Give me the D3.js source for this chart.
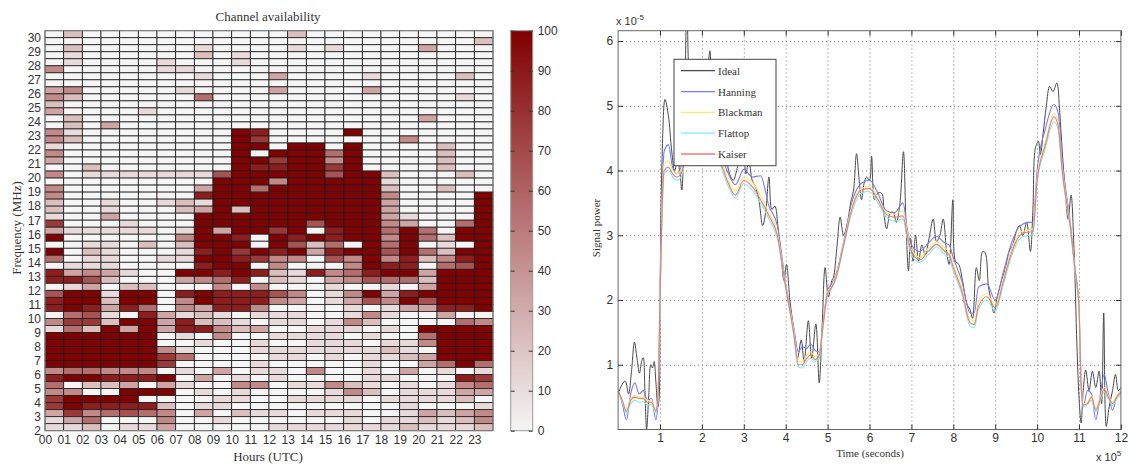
<!DOCTYPE html>
<html>
<head>
<meta charset="utf-8">
<script src="https://cdn.jsdelivr.net/npm/d3@7"></script>
<style>
  body { margin: 0; background: #fff; }
  text { font-family: "Liberation Sans", Arial, sans-serif; fill: #333; }
  .serif { font-family: "Liberation Serif", "DejaVu Serif", serif; }
</style>
</head>
<body>
<div id="canvas"></div>
<script>
// ---- heatmap data ----
var hours = ['00','01','02','03','04','05','06','07','08','09','10','11',
             '12','13','14','15','16','17','18','19','20','21','22','23'];
var freqTicks = [2,3,4,5,6,7,8,9,10,11,12,13,14,15,16,17,18,19,20,21,22,23,24,25,26,27,28,29,30];
var colorTicks = [0,10,20,30,40,50,60,70,80,90,100];

// one string per 0.5 MHz row, top (30-30.5) to bottom (2-2.5); one digit per hour, digit*11 = availability %
var availability = [
  '020000000000020000000000',
  '000000000000000000000002',
  '020000001000010100003000',
  '010000002010000000000000',
  '010000100010000000000000',
  '400000110000000000000000',
  '000000001000300001000020',
  '000000000000000000000000',
  '340000010000300003000000',
  '420000005000000000000010',
  '200000000000000000000000',
  '300001000000000000000000',
  '020000000000000000003000',
  '020300000000000000000000',
  '410000000098000090000000',
  '420000000097000000040000',
  '100000000099099090000200',
  '400000000090999590000200',
  '300000000099799490000200',
  '002000000098899790000200',
  '401111111699999699200020',
  '000000000999499999100000',
  '400000003995999999200200',
  '400000008999999999400009',
  '200100121999999999300009',
  '200100023929999999300009',
  '100300009999999999310009',
  '700010009999996999430059',
  '311111019399790899595099',
  '900000049980989899495299',
  '001102029990962509590109',
  '902100018979893899695299',
  '501100119987440649482489',
  '011100008990400049880569',
  '834310099898218458993999',
  '886200034580210346552999',
  '013022000404000100103999',
  '699199089888640149389999',
  '899299049888430136496999',
  '898385043884000010133889',
  '056108312101110014100300',
  '477299382210110142000054',
  '152939388423001110109999',
  '999999010400111101005999',
  '999999001001001110114999',
  '999999410001111111210999',
  '999999750000110101123999',
  '999999700001000001003595',
  '455444010301104001030101',
  '899888903010100001100087',
  '502230310044011421010145',
  '440099901010000142011133',
  '799990000110011110111120',
  '798888201100000000010001',
  '374565403021101110013234',
  '135000400100000010112124',
  '112011300000111111121112'
];

// ---- signal power data (time in 1e5 s, power in 1e-5) ----
var timeTicks = [1,2,3,4,5,6,7,8,9,10,11,12];
var powerTicks = [1,2,3,4,5,6];
var seriesNames = ['Ideal','Hanning','Blackman','Flattop','Kaiser'];
var seriesColors = ['#4a4a4a','#7878ff','#ffea66','#7af0f0','#f27878'];

var timeSmooth = [0,0.1,0.2,0.3,0.4,0.5,0.6,0.7,0.8,0.9,0.95,1.0,1.05,1.1,1.2,1.3,1.4,1.5,1.6,
  1.8,2.0,2.2,2.4,2.6,2.8,3.0,3.2,3.4,3.6,3.8,4.0,4.2,4.3,4.4,4.5,4.6,4.7,4.8,4.9,5.0,5.1,5.2,
  5.4,5.6,5.8,6.0,6.2,6.4,6.6,6.8,6.9,7.0,7.2,7.4,7.6,7.8,7.9,8.0,8.2,8.4,8.5,8.6,8.8,9.0,9.2,
  9.4,9.6,9.8,9.9,10.0,10.2,10.4,10.5,10.6,10.8,10.9,11.0,11.05,11.1,11.2,11.3,11.4,11.5,11.6,
  11.7,11.8,11.9,12.0];

var hanning = [0.6,0.4,0.15,0.55,0.72,0.55,0.6,0.45,0.48,0.15,0.4,2.0,3.6,4.3,4.4,4.05,3.95,4.05,4.3,
  4.45,4.35,4.55,4.35,4.0,3.78,4.02,3.9,3.92,3.45,3.15,2.25,1.55,1.2,1.28,1.25,1.32,1.22,1.2,1.7,2.15,
  2.25,2.4,2.95,3.55,3.8,3.85,3.65,3.38,3.35,3.5,3.1,2.85,2.75,2.88,2.98,2.88,2.85,2.65,2.3,1.8,1.8,
  2.2,2.25,2.0,2.45,2.9,3.15,3.2,3.2,4.0,4.65,5.02,4.9,4.15,3.15,2.5,1.9,0.7,0.35,0.6,0.55,0.15,0.5,
  0.85,0.55,0.3,0.5,0.58];
var blackman = [0.6,0.45,0.3,0.48,0.52,0.5,0.5,0.45,0.44,0.3,0.5,2.0,3.5,4.1,4.15,4.0,3.95,4.0,4.2,
  4.3,4.25,4.4,4.25,3.9,3.68,3.9,3.82,3.62,3.35,3.05,2.22,1.5,1.05,1.05,1.15,1.2,1.12,1.18,1.68,2.12,
  2.22,2.38,2.92,3.5,3.72,3.75,3.58,3.35,3.32,3.38,3.05,2.78,2.66,2.8,2.9,2.8,2.75,2.55,2.2,1.7,1.68,
  1.98,2.1,1.92,2.35,2.8,3.05,3.08,3.1,3.9,4.45,4.88,4.75,4.05,3.12,2.5,1.9,0.72,0.4,0.42,0.52,0.32,
  0.48,0.65,0.52,0.42,0.52,0.6];
var flattop = [0.6,0.42,0.25,0.4,0.45,0.42,0.43,0.38,0.38,0.25,0.45,1.95,3.3,3.95,4.0,3.9,3.85,3.9,4.1,
  4.2,4.15,4.3,4.15,3.8,3.58,3.8,3.7,3.5,3.25,2.95,2.18,1.42,0.97,0.95,1.05,1.1,1.05,1.1,1.62,2.08,
  2.18,2.32,2.88,3.4,3.65,3.68,3.5,3.28,3.22,3.25,2.95,2.7,2.58,2.7,2.82,2.7,2.65,2.45,2.1,1.6,1.57,
  1.85,2.0,1.83,2.25,2.7,2.95,3.0,3.0,3.8,4.35,4.75,4.65,3.95,3.05,2.45,1.85,0.68,0.35,0.38,0.45,0.27,
  0.42,0.58,0.47,0.37,0.47,0.55];
var kaiser = [0.6,0.45,0.28,0.45,0.5,0.48,0.48,0.42,0.42,0.28,0.5,2.0,3.4,4.0,4.05,3.95,3.9,3.95,4.15,
  4.25,4.2,4.35,4.2,3.85,3.62,3.85,3.75,3.55,3.3,3.0,2.2,1.45,1.0,1.0,1.1,1.15,1.08,1.15,1.65,2.1,
  2.2,2.35,2.9,3.45,3.7,3.72,3.55,3.32,3.28,3.3,3.0,2.75,2.62,2.75,2.86,2.75,2.7,2.5,2.15,1.65,1.62,
  1.9,2.05,1.88,2.3,2.75,3.0,3.05,3.05,3.85,4.4,4.83,4.7,4.0,3.1,2.5,1.9,0.7,0.38,0.4,0.5,0.3,0.45,
  0.62,0.5,0.4,0.5,0.58];

var timeIdeal = [0,0.1,0.17,0.25,0.32,0.39,0.45,0.51,0.56,0.6,0.64,0.68,0.73,0.78,0.82,0.86,0.9,0.95,
  0.98,1.0,1.05,1.12,1.2,1.28,1.35,1.42,1.48,1.52,1.58,1.64,1.7,1.78,1.88,1.98,2.08,2.19,2.28,2.38,
  2.48,2.58,2.66,2.75,2.83,2.92,2.98,3.05,3.12,3.2,3.28,3.36,3.45,3.52,3.6,3.67,3.74,3.82,3.9,3.96,
  4.02,4.1,4.2,4.28,4.37,4.44,4.54,4.62,4.72,4.8,4.87,4.94,5.02,5.1,5.14,5.22,5.3,5.38,5.46,5.55,
  5.62,5.69,5.76,5.81,5.87,5.93,6.0,6.05,6.12,6.2,6.29,6.35,6.41,6.5,6.57,6.64,6.72,6.81,6.87,6.93,
  6.98,7.04,7.1,7.17,7.25,7.33,7.42,7.52,7.6,7.68,7.76,7.84,7.9,7.99,8.05,8.13,8.22,8.32,8.4,8.46,
  8.55,8.62,8.7,8.76,8.84,8.9,8.97,9.05,9.15,9.25,9.33,9.42,9.5,9.58,9.66,9.75,9.84,9.9,9.96,10.03,
  10.08,10.14,10.22,10.3,10.38,10.47,10.54,10.6,10.67,10.74,10.81,10.88,10.95,11.0,11.05,11.1,11.16,
  11.24,11.32,11.4,11.48,11.54,11.59,11.65,11.72,11.8,11.87,11.94,12.0];
var ideal = [0.55,0.7,0.75,0.55,0.9,1.35,1.1,0.87,1.05,1.11,0.6,0.0,0.5,1.0,0.95,1.05,0.75,0.35,
  0.5,2.0,4.2,5.1,4.85,4.3,4.0,4.15,3.95,3.7,4.7,6.5,5.2,4.6,4.7,4.4,4.8,5.85,4.6,4.4,
  4.5,4.2,3.95,3.85,4.0,4.25,4.3,3.95,4.15,3.85,3.75,3.55,3.15,3.35,3.9,3.4,3.45,3.1,2.6,2.3,
  2.55,2.0,1.5,1.1,1.38,1.05,1.68,1.1,1.63,0.72,1.6,2.5,2.05,2.3,2.35,2.8,3.28,3.0,3.15,3.5,
  3.7,4.26,3.8,3.55,3.8,3.9,3.85,4.22,3.55,3.65,3.65,3.3,3.1,3.35,3.35,3.2,3.45,4.29,3.2,2.45,
  2.95,2.6,3.0,2.6,2.85,2.7,2.95,3.25,2.9,3.0,3.25,2.75,2.55,3.55,2.6,2.55,2.3,1.95,1.85,1.72,
  2.5,2.3,2.75,2.73,2.2,2.0,1.8,2.05,2.3,2.5,2.75,2.85,3.05,3.15,3.0,3.2,2.75,3.4,4.35,4.45,
  4.25,4.55,5.0,5.3,5.22,5.35,4.9,4.3,3.7,3.25,3.62,2.8,1.3,0.5,0.1,0.6,0.92,
  0.6,0.9,0.65,0.9,0.4,1.8,0.05,0.35,0.6,0.85,0.6,0.65];

var W = 1129, H = 464;
var svg = d3.select('#canvas').append('svg')
    .attr('width', W)
    .attr('height', H);

// ================= heatmap =================
var hm = {l:45, r:493, t:30.7, b:430.7};
var x = d3.scaleLinear().domain([0,24]).range([hm.l, hm.r]);
var y = d3.scaleLinear().domain([2,30.5]).range([hm.b, hm.t]);
var color = d3.scaleLinear().domain([0,100]).range(['#f5f5f5','#800000']);

var cells = [];
availability.forEach(function(row, k){
  row.split('').forEach(function(ch, h){
    cells.push({hour:h, f0:30 - 0.5*k, value:+ch * 11});
  });
});

svg.append('g').selectAll('rect')
  .data(cells)
  .enter()
  .append('rect')
  .attr('x', function(d){ return x(d.hour); })
  .attr('y', function(d){ return y(d.f0 + 0.5); })
  .attr('width', x(1) - x(0))
  .attr('height', y(0) - y(0.5))
  .attr('fill', function(d){ return color(d.value); })
  .attr('stroke', '#1c1c1c')
  .attr('stroke-width', 0.8);

svg.append('rect')
  .attr('x', hm.l).attr('y', hm.t)
  .attr('width', hm.r - hm.l).attr('height', hm.b - hm.t)
  .attr('fill', 'none').attr('stroke', '#888').attr('stroke-width', 1);

var hmY = d3.axisLeft(y).tickValues(freqTicks).tickSize(0).tickPadding(4);
var gy = svg.append('g').attr('transform', 'translate(' + hm.l + ',0)').call(hmY);
gy.select('.domain').remove();
gy.selectAll('text').style('font-size', '12px').style('fill', '#333');

var hmX = d3.axisBottom(x).tickValues(d3.range(24))
    .tickFormat(function(i){ return hours[i]; })
    .tickSize(0).tickPadding(5);
var gx = svg.append('g').attr('transform', 'translate(0,' + hm.b + ')').call(hmX);
gx.select('.domain').remove();
gx.selectAll('text').style('font-size', '12px').style('fill', '#333');

svg.append('text').attr('class', 'serif')
  .attr('x', 268).attr('y', 21)
  .attr('text-anchor', 'middle')
  .style('font-size', '13px')
  .text('Channel availability');

svg.append('text').attr('class', 'serif')
  .attr('transform', 'translate(21,228) rotate(-90)')
  .attr('text-anchor', 'middle')
  .style('font-size', '13px')
  .text('Frequency (MHz)');

svg.append('text').attr('class', 'serif')
  .attr('x', 268).attr('y', 461)
  .attr('text-anchor', 'middle')
  .style('font-size', '13px')
  .text('Hours (UTC)');

// colorbar
var cb = {l:510.7, r:532.7};
var cbScale = d3.scaleLinear().domain([0,100]).range([hm.b, hm.t]);
var grad = svg.append('defs').append('linearGradient')
  .attr('id', 'cbgrad')
  .attr('x1', 0).attr('y1', 1).attr('x2', 0).attr('y2', 0);
colorTicks.forEach(function(v){
  grad.append('stop').attr('offset', v/100).attr('stop-color', color(v));
});
svg.append('rect')
  .attr('x', cb.l).attr('y', hm.t)
  .attr('width', cb.r - cb.l).attr('height', hm.b - hm.t)
  .attr('fill', 'url(#cbgrad)')
  .attr('stroke', '#999').attr('stroke-width', 1);

var cbAxis = d3.axisRight(cbScale).tickValues(colorTicks).tickSize(-4).tickPadding(5);
var gcb = svg.append('g').attr('transform', 'translate(' + cb.r + ',0)').call(cbAxis);
gcb.select('.domain').remove();
gcb.selectAll('line').attr('stroke', '#333');
gcb.selectAll('text').style('font-size', '12px').style('fill', '#333');
var cbLeft = d3.axisLeft(cbScale).tickValues(colorTicks).tickSize(-4).tickFormat('');
var gcbl = svg.append('g').attr('transform', 'translate(' + cb.l + ',0)').call(cbLeft);
gcbl.select('.domain').remove();
gcbl.selectAll('line').attr('stroke', '#333');

// ================= signal power =================
var pl = {l:618.1, r:1120.9, t:30.7, b:429.5};
var xs = d3.scaleLinear().domain([0,12]).range([pl.l, pl.r]);
var ys = d3.scaleLinear().domain([0,6.16]).range([pl.b, pl.t]);

// dotted grid
var gridX = svg.append('g').attr('transform', 'translate(0,' + pl.b + ')')
  .call(d3.axisBottom(xs).tickValues(timeTicks.slice(0, 11)).tickSize(-(pl.b - pl.t)).tickFormat(''));
var gridY = svg.append('g').attr('transform', 'translate(' + pl.l + ',0)')
  .call(d3.axisLeft(ys).tickValues(powerTicks).tickSize(-(pl.r - pl.l)).tickFormat(''));
[gridX, gridY].forEach(function(g){
  g.select('.domain').remove();
  g.selectAll('line').attr('stroke', '#777').attr('stroke-dasharray', '1,3');
});

svg.append('clipPath').attr('id', 'plotclip')
  .append('rect')
  .attr('x', pl.l).attr('y', pl.t)
  .attr('width', pl.r - pl.l).attr('height', pl.b - pl.t);

var lines = svg.append('g').attr('clip-path', 'url(#plotclip)');

var idealLine = d3.line()
  .x(function(d, i){ return xs(timeIdeal[i]); })
  .y(function(d){ return ys(d); })
  .curve(d3.curveCatmullRom.alpha(0.5));
lines.append('path')
  .attr('d', idealLine(ideal))
  .attr('fill', 'none')
  .attr('stroke', seriesColors[0])
  .attr('stroke-width', 1);

var smoothLine = d3.line()
  .x(function(d, i){ return xs(timeSmooth[i]); })
  .y(function(d){ return ys(d); })
  .curve(d3.curveMonotoneX);
[hanning, blackman, flattop, kaiser].forEach(function(s, i){
  lines.append('path')
    .attr('d', smoothLine(s))
    .attr('fill', 'none')
    .attr('stroke', seriesColors[i + 1])
    .attr('stroke-width', 1.1);
});

svg.append('rect')
  .attr('x', pl.l).attr('y', pl.t)
  .attr('width', pl.r - pl.l).attr('height', pl.b - pl.t)
  .attr('fill', 'none').attr('stroke', '#666').attr('stroke-width', 1);

// inward ticks on all four sides
var axB = svg.append('g').attr('transform', 'translate(0,' + pl.b + ')')
  .call(d3.axisBottom(xs).tickValues(timeTicks).tickFormat(d3.format('d'))
    .tickSizeInner(-5).tickSizeOuter(0).tickPadding(4));
var axT = svg.append('g').attr('transform', 'translate(0,' + pl.t + ')')
  .call(d3.axisTop(xs).tickValues(timeTicks).tickSizeInner(-5).tickSizeOuter(0).tickFormat(''));
var axL = svg.append('g').attr('transform', 'translate(' + pl.l + ',0)')
  .call(d3.axisLeft(ys).tickValues(powerTicks).tickFormat(d3.format('d'))
    .tickSizeInner(-5).tickSizeOuter(0).tickPadding(5));
var axR = svg.append('g').attr('transform', 'translate(' + pl.r + ',0)')
  .call(d3.axisRight(ys).tickValues(powerTicks).tickSizeInner(-5).tickSizeOuter(0).tickFormat(''));
[axB, axT, axL, axR].forEach(function(g){
  g.select('.domain').remove();
  g.selectAll('line').attr('stroke', '#333');
  g.selectAll('text').style('font-size', '12px').style('fill', '#333');
});

// exponent labels
var e1 = svg.append('text').attr('x', 616).attr('y', 25).style('font-size', '11px');
e1.append('tspan').text('x 10');
e1.append('tspan').attr('dy', -5).style('font-size', '8px').text('-5');
var e2 = svg.append('text').attr('x', 1096).attr('y', 461).style('font-size', '11px');
e2.append('tspan').text('x 10');
e2.append('tspan').attr('dy', -5).style('font-size', '8px').text('5');

svg.append('text').attr('class', 'serif')
  .attr('transform', 'translate(600,228) rotate(-90)')
  .attr('text-anchor', 'middle')
  .style('font-size', '11px')
  .text('Signal power');

svg.append('text').attr('class', 'serif')
  .attr('x', 870).attr('y', 457)
  .attr('text-anchor', 'middle')
  .style('font-size', '11px')
  .text('Time (seconds)');

// legend
var lg = svg.append('g');
lg.append('rect')
  .attr('x', 674).attr('y', 59.3)
  .attr('width', 102).attr('height', 106.4)
  .attr('fill', '#fff').attr('stroke', '#444').attr('stroke-width', 1);
var legendY = d3.scalePoint().domain(seriesNames).range([70.7, 154]);
seriesNames.forEach(function(name, i){
  lg.append('line')
    .attr('x1', 681).attr('x2', 715)
    .attr('y1', legendY(name)).attr('y2', legendY(name))
    .attr('stroke', seriesColors[i]).attr('stroke-width', 1.3);
  lg.append('text').attr('class', 'serif')
    .attr('x', 718).attr('y', legendY(name) + 4)
    .style('font-size', '11px')
    .text(name);
});
</script>
</body>
</html>
